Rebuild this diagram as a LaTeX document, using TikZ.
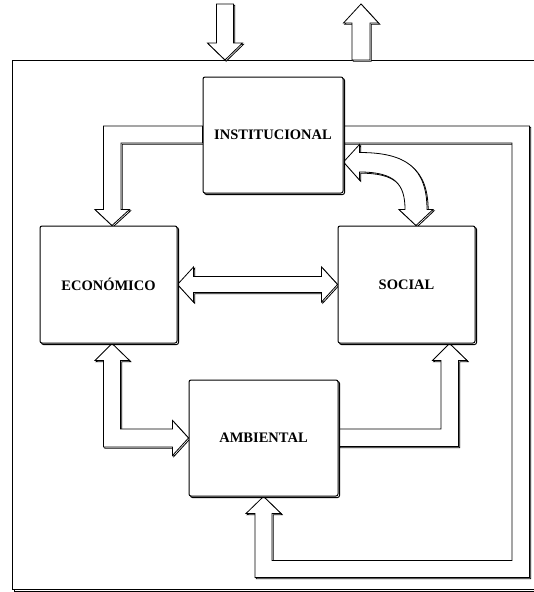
\documentclass[tikz,border=0pt]{standalone}
\usepackage{fontspec}
\setmainfont{Liberation Serif}
\usetikzlibrary{calc,shadows,backgrounds}

\begin{document}
\begin{tikzpicture}[x=1pt,y=-1pt,% one unit = one pixel of the sketch, y runs downwards
        box/.style={
            draw, line width=1pt, fill=white,
            rounded corners=2pt,	% corners of the boxes are only slightly round
            inner sep=0pt,
            minimum width=137pt, minimum height=117pt,
            font=\bfseries\fontsize{14.5}{17}\selectfont,
            general shadow={shadow xshift=1.5pt,shadow yshift=-1.5pt,draw,line width=1pt,fill=white}
        },
        sysframe/.style={
            draw, line width=.8pt, fill=white,
            minimum width=533pt, minimum height=529pt,
            general shadow={shadow xshift=2pt,shadow yshift=-2pt,draw,line width=.8pt,fill=white}
        },
        blk/.style={	% hollow block arrows
            draw, line width=.8pt, fill=white, line join=miter,
            general shadow={shadow xshift=1.2pt,shadow yshift=-1.2pt,draw,line width=.8pt,fill=white}
        }
    ]
    \useasboundingbox (0,0) rectangle (534,592);
    \begin{scope}[on background layer]
        \node[sysframe](R0) at (278.5,324.5) {};
    \end{scope}
    \coordinate (in) at (225,60);
    \coordinate (out) at (361,60);

    \node[box,minimum width=140pt,minimum height=116pt](R1) at (273,135) {INSTITUCIONAL};
    \node[box](R2) at (108.5,284.5) {ECONÓMICO};
    \node[box](R3) at (406.5,284.5) {SOCIAL};
    \node[box,minimum width=149pt,minimum height=116pt](R4) at (263.5,438) {AMBIENTAL};

    \begin{scope}[on background layer]
        % in and out of the system
        \draw[blk] (in) -- ++(-17.5,-17) -- ++(9,0) -- ++(0,-39) -- ++(17,0) -- ++(0,39) -- ++(9,0) -- cycle;
        \draw[blk] ($(out)+(-9,0)$) -- ++(0,-37) -- ++(-8.5,0) -- ++(17.5,-19) -- ++(17.5,19) -- ++(-8.5,0) -- ++(0,37) -- cycle;
        % R1 -> R2
        \draw[blk] ($(R1.west)+(0,-9)$) -| ($(R2.north)+(-5,-16)$) -- ++(-8.5,0) -- ($(R2.north)+(3.5,0)$)
            -- ++(17.5,-16) -- ++(-8.5,0) |- ($(R1.west)+(0,8)$) -- cycle;
        % R2 <-> R4
        \draw[blk] ($(R2.south)+(3.5,0)$) -- ++(17.5,17) -- ++(-9,0) |- ($(R4.west)+(-16,-9)$) -- ++(0,-8.5)
            -- (R4.west) -- ++(-16,17.5) -- ++(0,-8.5) -| ($(R2.south)+(-5,17)$) -- ++(-8.5,0) -- cycle;
        % R4 -> R3
        \draw[blk] ($(R4.east)+(0,-9)$) -| ($(R3.south)+(34.5,17)$) -- ++(-8.5,0) -- ($(R3.south)+(43,0)$)
            -- ++(17.5,17) -- ++(-8.5,0) |- ($(R4.east)+(0,8.5)$) -- cycle;
        % R2 <-> R3
        \draw[blk] (R2.east) -- ++(16,-17.5) -- ++(0,9.5) -- ($(R3.west)+(-16,-8)$) -- ++(0,-9.5)
            -- (R3.west) -- ++(-16,17.5) -- ++(0,-9.5) -- ($(R2.east)+(16,8)$) -- ++(0,9.5) -- cycle;
        % R1 -> R4, round the outside
        \draw[blk] ($(R1.east)+(0,-9)$) -- ++(186,0) |- ($(R4.south)+(-8.5,81)$) -- ++(0,-64) -- ++(-9,0)
            -- (R4.south) -- ++(17.5,17) -- ++(-9,0) |- ($(R4.south)+(248.5,64)$) |- ($(R1.east)+(0,8)$) -- cycle;
        % R1 <-> R3
        \draw[blk] ($(R1.east)+(0,27)$) -- ++(16,-17.5) -- ++(0,8)
            .. controls +(46,0) and +(0,-42) .. ($(R3.north)+(20.5,-16)$) -- ++(6,0)
            -- ($(R3.north)+(9.5,0)$) -- ++(-17,-16) -- ++(6,0)
            .. controls +(0,-25) and +(36,0) .. ($(R1.east)+(16,37)$) -- ++(0,8) -- cycle;
    \end{scope}
\end{tikzpicture}
\end{document}
